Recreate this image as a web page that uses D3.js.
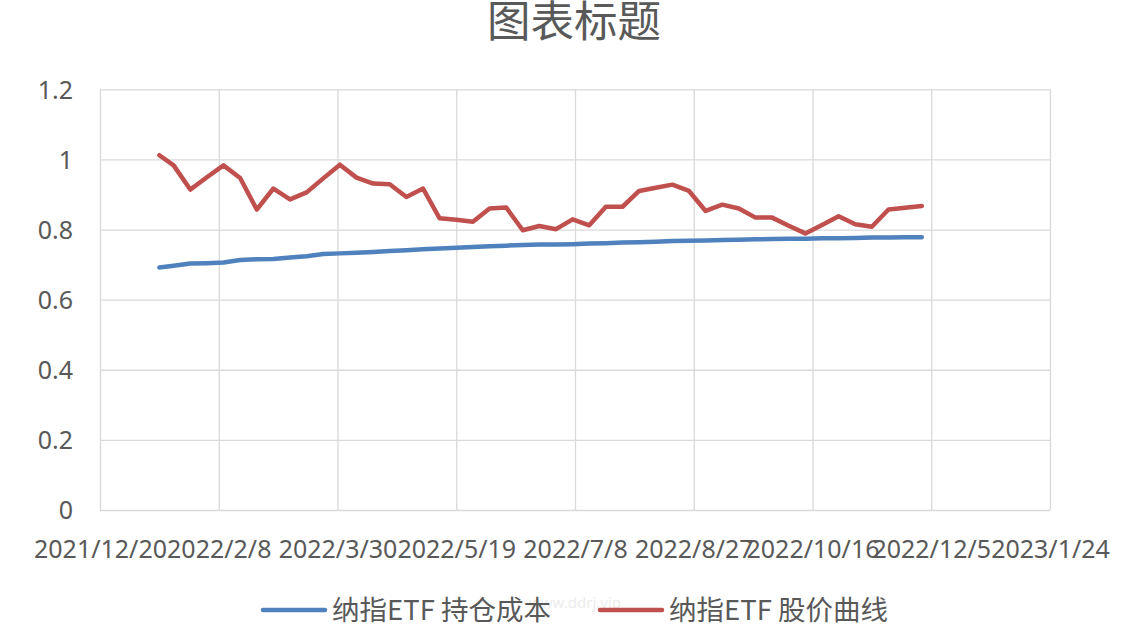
<!DOCTYPE html>
<html><head><meta charset="utf-8">
<script src="https://cdn.jsdelivr.net/npm/d3@7"></script>
<style>body{margin:0;background:#fff;} svg{display:block}</style>
</head><body><svg id="c" width="1141" height="625"></svg>
<script>
// ---- data ----
const dates = [
  "2022-01-14","2022-01-20","2022-01-27","2022-02-03","2022-02-10","2022-02-17","2022-02-24",
  "2022-03-03","2022-03-10","2022-03-17","2022-03-24","2022-03-31","2022-04-07","2022-04-14",
  "2022-04-21","2022-04-28","2022-05-05","2022-05-12","2022-05-19","2022-05-26","2022-06-02",
  "2022-06-09","2022-06-16","2022-06-23","2022-06-30","2022-07-07","2022-07-14","2022-07-21",
  "2022-07-28","2022-08-04","2022-08-11","2022-08-18","2022-08-25","2022-09-01","2022-09-08",
  "2022-09-15","2022-09-22","2022-09-29","2022-10-06","2022-10-13","2022-10-20","2022-10-27",
  "2022-11-03","2022-11-10","2022-11-17","2022-11-24","2022-12-01"
];
const costValues = [
  0.692,0.697,0.703,0.704,0.706,0.713,0.715,0.716,0.720,0.724,0.730,0.732,0.734,0.736,
  0.739,0.741,0.744,0.746,0.748,0.750,0.752,0.754,0.756,0.757,0.757,0.758,0.760,0.761,
  0.763,0.764,0.765,0.767,0.768,0.769,0.770,0.771,0.772,0.773,0.774,0.774,0.775,0.775,
  0.776,0.777,0.777,0.778,0.778
];
const priceValues = [
  1.012,0.983,0.914,0.949,0.983,0.947,0.857,0.917,0.886,0.906,0.946,0.985,0.948,0.931,
  0.929,0.893,0.917,0.832,0.828,0.822,0.860,0.863,0.798,0.810,0.801,0.829,0.812,0.865,
  0.865,0.910,0.919,0.928,0.910,0.853,0.871,0.860,0.834,0.834,0.811,0.789,0.813,0.838,
  0.815,0.808,0.857,0.862,0.867
];
const xTickLabels = ["2021/12/20","2022/2/8","2022/3/30","2022/5/19","2022/7/8","2022/8/27","2022/10/16","2022/12/5","2023/1/24"];
const yTicks = [0,0.2,0.4,0.6,0.8,1,1.2];
const seriesNames = ["纳指ETF 持仓成本","纳指ETF 股价曲线"];
const seriesColors = ["#4F81BD","#C0504D"];
const title = "图表标题";

// ---- chart ----
const svg = d3.select("#c");
const W = 1141, H = 625;
const m = {left:100, right:91, top:89.3, bottom:115};
const pw = W - m.left - m.right, ph = H - m.top - m.bottom;
const parse = d3.timeParse("%Y-%m-%d");
const parseTick = d3.timeParse("%Y/%m/%d");
const tickDates = xTickLabels.map(parseTick);
const pts = dates.map(parse);

const x = d3.scaleTime().domain([tickDates[0], tickDates[tickDates.length-1]]).range([m.left, m.left+pw]);
const y = d3.scaleLinear().domain([0,1.2]).range([m.top+ph, m.top]);

const font = "'Noto Sans','Noto Sans CJK SC',sans-serif";
const txt = "#595959";

// watermark (behind everything)
svg.append("text").attr("x",575).attr("y",608).attr("text-anchor","middle").attr("fill","#ececec")
  .style("font-family",font).style("font-size","15px").text("www.ddrj.vip");

// gridlines via axes
const gx = svg.append("g").attr("transform",`translate(0,${m.top+ph})`)
  .call(d3.axisBottom(x).tickValues(tickDates).tickSizeInner(-ph).tickSizeOuter(0)
    .tickFormat((d,i)=>xTickLabels[i]));
gx.select(".domain").remove();
gx.selectAll(".tick line").attr("stroke","#d9d9d9").attr("stroke-width",1.3);
gx.selectAll(".tick text").attr("y",48).attr("dy",null).attr("fill",txt)
  .style("font-family",font).style("font-size","25px");

const gy = svg.append("g").attr("transform",`translate(${m.left},0)`)
  .call(d3.axisLeft(y).tickValues(yTicks).tickSizeInner(-pw).tickSizeOuter(0)
    .tickFormat(d3.format("~g")));
gy.select(".domain").remove();
gy.selectAll(".tick line").attr("stroke","#d9d9d9").attr("stroke-width",1.3);
gy.selectAll(".tick text").attr("x",-27).attr("dy","0.35em").attr("fill",txt)
  .style("font-family",font).style("font-size","25px");

// lines
const line = d3.line().x((d,i)=>x(pts[i])).y(d=>y(d));
[costValues, priceValues].forEach((vals,k)=>{
  svg.append("path").datum(vals).attr("d",line).attr("fill","none")
    .attr("stroke",seriesColors[k]).attr("stroke-width",4.5)
    .attr("stroke-linejoin","round").attr("stroke-linecap","round");
});

// title
svg.append("text").attr("x",574).attr("y",37).attr("text-anchor","middle")
  .attr("fill",txt).style("font-family","'Noto Sans CJK SC',sans-serif").style("font-size","43.5px")
  .text(title);

// legend
const legX = [263, 600];
seriesNames.forEach((n,k)=>{
  svg.append("line").attr("x1",legX[k]).attr("x2",legX[k]+62).attr("y1",610).attr("y2",610)
    .attr("stroke",seriesColors[k]).attr("stroke-width",4.5).attr("stroke-linecap","round");
  svg.append("text").attr("x",legX[k]+69).attr("y",620).attr("fill",txt)
    .style("font-family","'Noto Sans CJK SC',sans-serif").style("font-size","27.5px").text(n);
});
</script></body></html>
